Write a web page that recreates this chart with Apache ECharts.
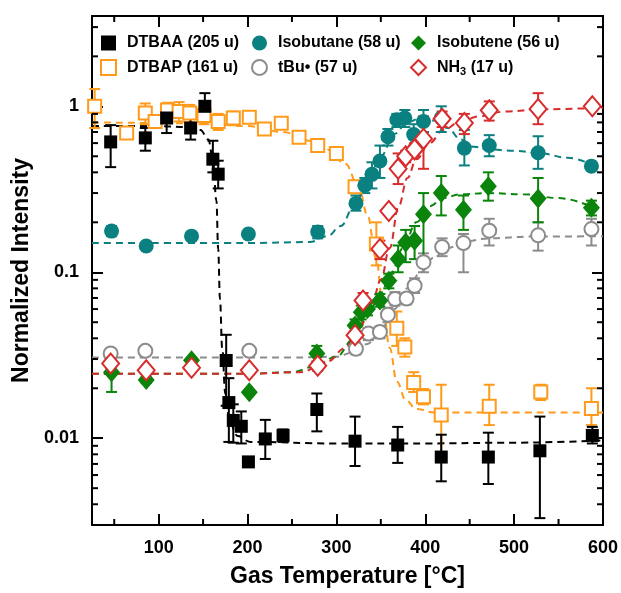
<!DOCTYPE html>
<html>
<head>
<meta charset="utf-8">
<script src="https://cdn.jsdelivr.net/npm/echarts@6/dist/echarts.min.js"></script>
<style>
  html, body { margin: 0; padding: 0; background: #fff; }
  #chart { width: 621px; height: 593px; }
</style>
</head>
<body>
<div id="chart"></div>
<script>
// measured points: [T (°C), normalized intensity, error low, error high]
const dtbaa = [
  [46, 0.61, 0.43, 0.77], [85, 0.645, 0.54, 0.74], [109, 0.85, 0.69, 1.0], [136, 0.74, 0.63, 0.84],
  [152, 1.0, 0.81, 1.2], [161, 0.48, 0.40, 0.62], [167, 0.39, 0.32, 0.47], [176, 0.0294, 0.0157, 0.042],
  [179, 0.0164, 0.0095, 0.023], [184, 0.0128, 0.0094, 0.016], [193, 0.0118, 0.0093, 0.0145],
  [201, 0.0072, 0.0068, 0.0076], [220, 0.0099, 0.0075, 0.0129], [240, 0.0104, 0.0095, 0.0113],
  [278, 0.0149, 0.011, 0.0186], [321, 0.0096, 0.0068, 0.0135], [369, 0.0091, 0.0071, 0.0117],
  [418, 0.0077, 0.0055, 0.0105], [471, 0.0077, 0.0053, 0.0108], [529, 0.0084, 0.0033, 0.0135],
  [588, 0.0104, 0.0093, 0.0117]
]
const dtbap = [
  [28, 1.0, 0.74, 1.27], [64, 0.69, 0.64, 0.75], [85, 0.91, 0.78, 1.04], [96, 0.81, 0.76, 0.86],
  [110, 0.95, 0.85, 1.05], [123, 0.93, 0.81, 1.06], [135, 0.91, 0.8, 1.02], [151, 0.88, 0.78, 0.98],
  [167, 0.81, 0.72, 0.9], [184, 0.85, 0.77, 0.93], [202, 0.86, 0.8, 0.92], [219, 0.73, 0.69, 0.77],
  [238, 0.79, 0.74, 0.84], [258, 0.65, 0.61, 0.69], [279, 0.58, 0.55, 0.61], [300, 0.52, 0.49, 0.55],
  [321, 0.328, 0.3, 0.355], [345, 0.148, 0.11, 0.2], [368, 0.046, 0.036, 0.058], [377, 0.0355, 0.031, 0.04],
  [387, 0.0217, 0.019, 0.025], [398, 0.0178, 0.016, 0.0198], [418, 0.0138, 0.0075, 0.021],
  [472, 0.0156, 0.012, 0.021], [530, 0.019, 0.017, 0.021], [587, 0.0151, 0.012, 0.02]
]
const isobutane = [
  [47, 0.177, 0.165, 0.19], [86, 0.144, 0.14, 0.148], [137, 0.165, 0.16, 0.17], [201, 0.17, 0.165, 0.175],
  [279, 0.175, 0.16, 0.19], [322, 0.26, 0.235, 0.29], [332, 0.334, 0.3, 0.37], [340, 0.389, 0.32, 0.46],
  [349, 0.468, 0.37, 0.58], [358, 0.655, 0.58, 0.73], [368, 0.83, 0.75, 0.9], [377, 0.85, 0.75, 0.95],
  [387, 0.675, 0.58, 0.78], [398, 0.81, 0.7, 0.95], [418, 0.85, 0.7, 1.0], [444, 0.56, 0.44, 0.72],
  [472, 0.58, 0.5, 0.67], [527, 0.525, 0.42, 0.66], [587, 0.436, 0.42, 0.45]
]
const tbu = [
  [46, 0.0324, 0.031, 0.034], [85, 0.0336, 0.033, 0.0345], [202, 0.0336, 0.033, 0.0345],
  [322, 0.0346, 0.032, 0.037], [336, 0.0427, 0.039, 0.046], [349, 0.0437, 0.04, 0.047],
  [358, 0.0555, 0.05, 0.061], [366, 0.069, 0.063, 0.076], [379, 0.0695, 0.064, 0.075],
  [388, 0.083, 0.075, 0.092], [398, 0.115, 0.1, 0.13], [419, 0.142, 0.125, 0.16],
  [443, 0.15, 0.1, 0.17], [472, 0.178, 0.145, 0.21], [527, 0.167, 0.135, 0.2], [587, 0.182, 0.145, 0.21]
]
const isobutene = [
  [47, 0.025, 0.019, 0.034], [86, 0.0224, 0.0215, 0.0233], [137, 0.0295, 0.0285, 0.0305],
  [202, 0.0189, 0.0183, 0.0195], [278, 0.0324, 0.029, 0.036], [321, 0.0478, 0.044, 0.052],
  [328, 0.0575, 0.052, 0.063], [335, 0.06, 0.055, 0.066], [349, 0.0676, 0.062, 0.074],
  [359, 0.089, 0.08, 0.098], [369.5, 0.12, 0.1, 0.145], [378, 0.151, 0.115, 0.18],
  [388, 0.155, 0.12, 0.19], [398, 0.224, 0.11, 0.3], [418, 0.3, 0.22, 0.38], [443, 0.238, 0.18, 0.29],
  [471, 0.33, 0.27, 0.4], [527, 0.278, 0.2, 0.37], [587, 0.245, 0.22, 0.27]
]
const nh3 = [
  [46, 0.0282, 0.0265, 0.03], [86, 0.0257, 0.025, 0.0265], [137, 0.0266, 0.026, 0.0273],
  [202, 0.0257, 0.025, 0.0265], [279, 0.0273, 0.0255, 0.029], [321, 0.0417, 0.038, 0.046],
  [330, 0.0676, 0.06, 0.075], [349, 0.138, 0.12, 0.155], [359, 0.234, 0.225, 0.243],
  [369.5, 0.421, 0.34, 0.52], [378, 0.5, 0.46, 0.54], [388, 0.55, 0.5, 0.6], [398, 0.637, 0.42, 0.87],
  [419, 0.84, 0.75, 0.93], [444, 0.794, 0.68, 0.9], [472, 0.945, 0.82, 1.07], [527, 0.964, 0.78, 1.2],
  [588, 1.0, 0.96, 1.04]
]

// dashed fit curves: [T, intensity]
const dtbaaFit = [[25, 0.76], [100, 0.76], [130, 0.75], [147, 0.72], [156, 0.63], [161, 0.48], [165, 0.27],
  [167, 0.138], [169, 0.069], [171.5, 0.035], [175, 0.0186], [180, 0.0123], [189, 0.0103], [203, 0.0095],
  [300, 0.0093], [400, 0.0093], [500, 0.0094], [600, 0.0097]]
const dtbapFit = [[25, 0.8], [150, 0.79], [200, 0.76], [240, 0.7], [270, 0.62], [290, 0.55], [310, 0.45],
  [325, 0.33], [335, 0.22], [345, 0.12], [352, 0.065], [360, 0.035], [368, 0.022], [378, 0.017],
  [390, 0.015], [410, 0.0143], [600, 0.0143]]
const isobutaneFit = [[25, 0.15], [200, 0.15], [270, 0.152], [290, 0.165], [305, 0.19], [320, 0.25],
  [335, 0.35], [350, 0.5], [365, 0.68], [380, 0.8], [395, 0.85], [410, 0.82], [425, 0.74], [440, 0.63],
  [455, 0.57], [470, 0.55], [500, 0.54], [530, 0.52], [560, 0.49], [590, 0.44]]
const tbuFit = [[25, 0.0306], [250, 0.0306], [300, 0.031], [320, 0.033], [335, 0.037], [350, 0.045],
  [365, 0.06], [380, 0.08], [395, 0.1], [410, 0.123], [425, 0.14], [445, 0.153], [470, 0.16],
  [520, 0.164], [600, 0.165]]
const isobuteneFit = [[25, 0.0245], [200, 0.0245], [250, 0.025], [275, 0.027], [300, 0.031], [320, 0.04],
  [335, 0.055], [350, 0.075], [362, 0.1], [375, 0.14], [390, 0.2], [405, 0.25], [420, 0.28], [440, 0.295],
  [470, 0.3], [510, 0.295], [550, 0.28], [590, 0.245]]
const nh3Fit = [[25, 0.0245], [200, 0.0245], [260, 0.025], [290, 0.029], [310, 0.035], [325, 0.045],
  [340, 0.065], [350, 0.09], [360, 0.14], [370, 0.25], [380, 0.37], [390, 0.48], [405, 0.6], [420, 0.72],
  [440, 0.81], [460, 0.87], [490, 0.93], [530, 0.96], [600, 0.98]]

const xMinorTicks = [50, 150, 250, 350, 450, 550]
const yMinorTicks = [0.004, 0.005, 0.006, 0.007, 0.008, 0.009, 0.02, 0.03, 0.04, 0.05, 0.06, 0.07, 0.08, 0.09,
  0.2, 0.3, 0.4, 0.5, 0.6, 0.7, 0.8, 0.9, 2, 3]

const groups = [
  { name: 'DTBAP (161 u)', data: dtbap, fit: dtbapFit, color: '#ff9a1a', symbol: 'emptyRect', size: 13 },
  { name: 'DTBAA (205 u)', data: dtbaa, fit: dtbaaFit, color: '#000000', symbol: 'rect', size: 13 },
  { name: 'Isobutane (58 u)', data: isobutane, fit: isobutaneFit, color: '#0b8080', symbol: 'circle', size: 15 },
  { name: 'tBu• (57 u)', data: tbu, fit: tbuFit, color: '#8c8c8c', symbol: 'emptyCircle', size: 14 },
  { name: 'Isobutene (56 u)', data: isobutene, fit: isobuteneFit, color: '#0a840a', symbol: 'diamond', size: [17, 20] },
  { name: 'NH3 (17 u)', data: nh3, fit: nh3Fit, color: '#d82c2c', symbol: 'emptyDiamond', size: [17, 20] }
]

const font = 'Liberation Sans, Arial, sans-serif'

function errorBar(color) {
  return function(params, api) {
    const x = api.value(0)
    const lo = api.coord([x, api.value(1)])
    const hi = api.coord([x, api.value(2)])
    const w = 5.5
    const style = { stroke: color, lineWidth: 2 }
    return {
      type: 'group',
      children: [
        { type: 'line', shape: { x1: lo[0], y1: lo[1], x2: hi[0], y2: hi[1] }, style },
        { type: 'line', shape: { x1: lo[0] - w, y1: lo[1], x2: lo[0] + w, y2: lo[1] }, style },
        { type: 'line', shape: { x1: hi[0] - w, y1: hi[1], x2: hi[0] + w, y2: hi[1] }, style }
      ]
    }
  }
}

// minor ticks on all four sides of the frame
function minorTickX(params, api) {
  const cs = params.coordSys
  const p = api.coord([api.value(0), 1])
  const style = { stroke: '#000', lineWidth: 2 }
  return {
    type: 'group',
    children: [
      { type: 'line', shape: { x1: p[0], y1: cs.y + cs.height, x2: p[0], y2: cs.y + cs.height - 6 }, style },
      { type: 'line', shape: { x1: p[0], y1: cs.y, x2: p[0], y2: cs.y + 6 }, style }
    ]
  }
}
function minorTickY(params, api) {
  const cs = params.coordSys
  const p = api.coord([100, api.value(1)])
  const style = { stroke: '#000', lineWidth: 2 }
  return {
    type: 'group',
    children: [
      { type: 'line', shape: { x1: cs.x, y1: p[1], x2: cs.x + 6, y2: p[1] }, style },
      { type: 'line', shape: { x1: cs.x + cs.width, y1: p[1], x2: cs.x + cs.width - 6, y2: p[1] }, style }
    ]
  }
}

const series = []
groups.forEach(g => {
  series.push({
    type: 'line',
    data: g.fit,
    showSymbol: false,
    smooth: 0.4,
    smoothMonotone: 'x',
    silent: true,
    z: 2,
    lineStyle: { color: g.color, width: 2, type: [7, 5] }
  })
})
groups.forEach(g => {
  series.push({
    type: 'custom',
    renderItem: errorBar(g.color),
    data: g.data.map(d => [d[0], d[2], d[3]]),
    encode: { x: 0, y: [1, 2] },
    silent: true,
    z: 3
  })
  series.push({
    name: g.name,
    type: 'scatter',
    data: g.data.map(d => [d[0], d[1]]),
    symbol: g.symbol,
    symbolSize: g.size,
    itemStyle: {
      color: g.color, borderColor: g.color, opacity: 1,
      borderWidth: g.symbol.indexOf('empty') === 0 ? 1.6 : 0
    },
    z: 3
  })
})
series.push({
  type: 'custom', renderItem: minorTickX, data: xMinorTicks.map(v => [v, 1]),
  encode: { x: 0, y: 1 }, silent: true, z: 10, clip: false
})
series.push({
  type: 'custom', renderItem: minorTickY, data: yMinorTicks.map(v => [100, v]),
  encode: { x: 0, y: 1 }, silent: true, z: 10, clip: false
})

const legendBase = {
  orient: 'vertical',
  top: 35,
  padding: 0,
  itemGap: 8,
  itemWidth: 15,
  itemHeight: 15,
  selectedMode: false,
  textStyle: {
    fontFamily: font, fontSize: 16, fontWeight: 'bold', color: '#000', padding: [0, 0, 0, 6],
    rich: {
      b: { fontFamily: font, fontSize: 16, fontWeight: 'bold', color: '#000' },
      sub: { fontFamily: font, fontSize: 11, fontWeight: 'bold', color: '#000', padding: [9, 0, 0, 0] }
    }
  },
  formatter: name => name === 'NH3 (17 u)' ? '{b|NH}{sub|3}{b| (17 u)}' : name
}

const tickLabel = { fontFamily: font, fontSize: 18, fontWeight: 'bold', color: '#000' }
const nameStyle = { fontFamily: font, fontSize: 23, fontWeight: 'bold', color: '#000' }
const frameLine = { show: true, onZero: false, lineStyle: { color: '#000', width: 2 } }
const majorTick = { show: true, inside: true, length: 11, lineStyle: { color: '#000', width: 2 } }

const chart = echarts.init(document.getElementById('chart'), null, { renderer: 'canvas' })
chart.setOption({
  animation: false,
  backgroundColor: '#fff',
  grid: { left: 92, right: 18, top: 16, bottom: 66, containLabel: false },
  legend: [
    Object.assign({}, legendBase, { left: 100, data: ['DTBAA (205 u)', 'DTBAP (161 u)'] }),
    Object.assign({}, legendBase, { left: 251, data: ['Isobutane (58 u)', 'tBu• (57 u)'] }),
    Object.assign({}, legendBase, { left: 410, data: ['Isobutene (56 u)', 'NH3 (17 u)'] })
  ],
  xAxis: [
    {
      type: 'value', min: 25, max: 600,
      axisLine: frameLine, axisTick: majorTick, splitLine: { show: false },
      axisLabel: Object.assign({ margin: 14, formatter: v => (v % 100 === 0 ? String(v) : '') }, tickLabel),
      name: 'Gas Temperature [°C]', nameLocation: 'middle', nameGap: 40, nameTextStyle: nameStyle
    },
    {
      type: 'value', min: 25, max: 600, position: 'top',
      axisLine: frameLine, axisTick: majorTick, axisLabel: { show: false }, splitLine: { show: false }
    }
  ],
  yAxis: [
    {
      type: 'log', logBase: 10, min: 0.003, max: 3.5,
      axisLine: frameLine, axisTick: majorTick, splitLine: { show: false }, minorTick: { show: false },
      axisLabel: Object.assign({ margin: 13, formatter: v => ([0.01, 0.1, 1].indexOf(+v) >= 0 ? String(v) : '') }, tickLabel),
      name: 'Normalized Intensity', nameLocation: 'middle', nameGap: 56, nameTextStyle: nameStyle
    },
    {
      type: 'log', logBase: 10, min: 0.003, max: 3.5, position: 'right',
      axisLine: frameLine, axisTick: majorTick, axisLabel: { show: false }, splitLine: { show: false }
    }
  ],
  series
})
</script>
</body>
</html>
